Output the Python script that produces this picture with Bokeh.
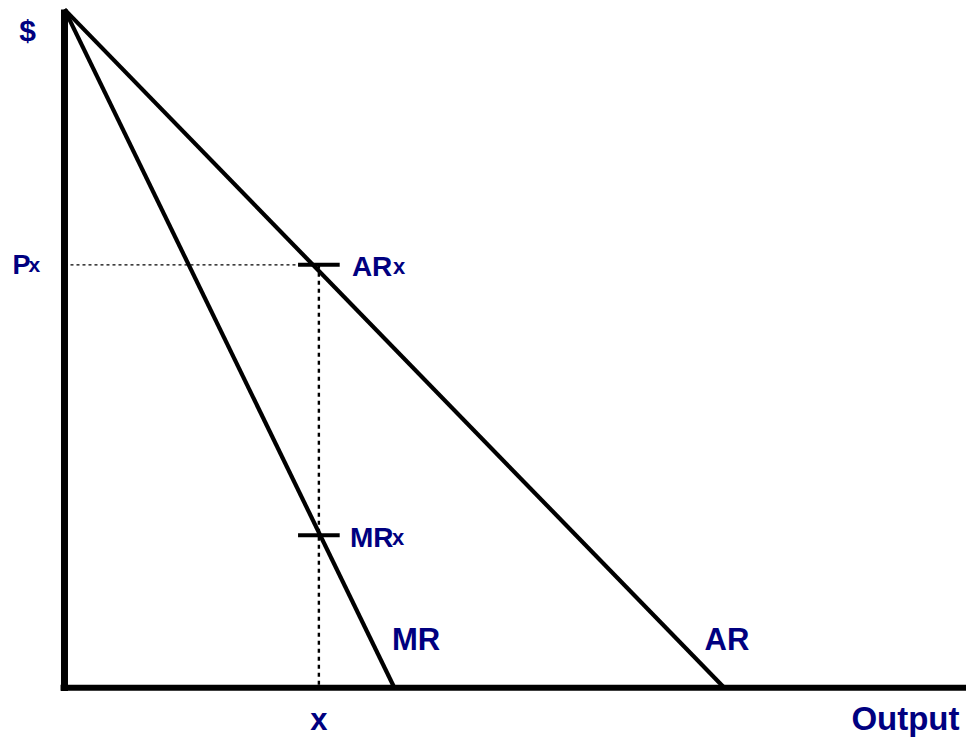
from bokeh.plotting import figure
from bokeh.models import Range1d
from bokeh.core.properties import value
from bokeh.embed import file_html
from bokeh.resources import INLINE

# ---- data (economic units) ----
ar_q = [0, 10]          # average revenue (demand) line
ar_p = [10, 0]
mr_q = [0, 5]           # marginal revenue line
mr_p = [10, 0]
q_x = 3.86              # chosen output x
p_x = 6.23              # price at x (AR_x)
mr_x = 2.24             # marginal revenue at x
q_max = 13.687

# ---- figure: the frame fills the whole canvas ----
p = figure(width=966, height=737, output_backend="svg", toolbar_location=None,
           x_axis_location=None, y_axis_location=None,
           x_range=Range1d(-0.971, q_max), y_range=Range1d(-0.745, 10.131),
           min_border=0)
p.grid.visible = False
p.outline_line_color = None
p.background_fill_color = "white"
p.border_fill_color = "white"

# axes drawn as thick lines
p.line([0, 0], [10, -0.06], line_color="black", line_width=7)
p.line([-0.06, q_max], [-0.01, -0.01], line_color="black", line_width=6)

# dotted guides
p.line([0, q_x], [p_x, p_x], line_color="black", line_width=1.4, line_dash="3 3")
p.line([q_x, q_x], [p_x, 0], line_color="black", line_width=2.4, line_dash="4 4")

# revenue curves
p.line(ar_q, ar_p, line_color="black", line_width=4.2)
p.line(mr_q, mr_p, line_color="black", line_width=4.2)

# tick marks at AR_x and MR_x
half = 0.316
p.line([q_x - half, q_x + half], [p_x, p_x], line_color="black", line_width=4)
p.line([q_x - half, q_x + half], [mr_x, mr_x], line_color="black", line_width=4)

font = value("Liberation Sans")
navy = "#000080"

def lab(x, y, t, size, xo, yo, align="left"):
    p.text(x=[x], y=[y], text=[t], text_font=font, text_font_style="bold",
           text_font_size=size, text_color=navy, text_align=align,
           text_baseline="alphabetic", x_offset=xo, y_offset=yo)

lab(0, 10, "$", "30px", -37, 21, "center")
lab(0, p_x, "P", "27px", -52, 0)
lab(0, p_x, "x", "21px", -36, 0)
lab(q_x, p_x, "AR", "28px", 33, 2)
lab(q_x, p_x, "x", "22px", 74, 2)
lab(q_x, mr_x, "MR", "28px", 31, 2)
lab(q_x, mr_x, "x", "22px", 73, 2)
lab(5, 0, "MR", "31px", -2, -48)
lab(10, 0, "AR", "31px", -19, -48)
lab(q_x, 0, "x", "31px", 0, 32, "center")
lab(q_max, 0, "Output", "33px", -7, 31, "right")

open("out.html", "w").write(file_html(p, INLINE))
